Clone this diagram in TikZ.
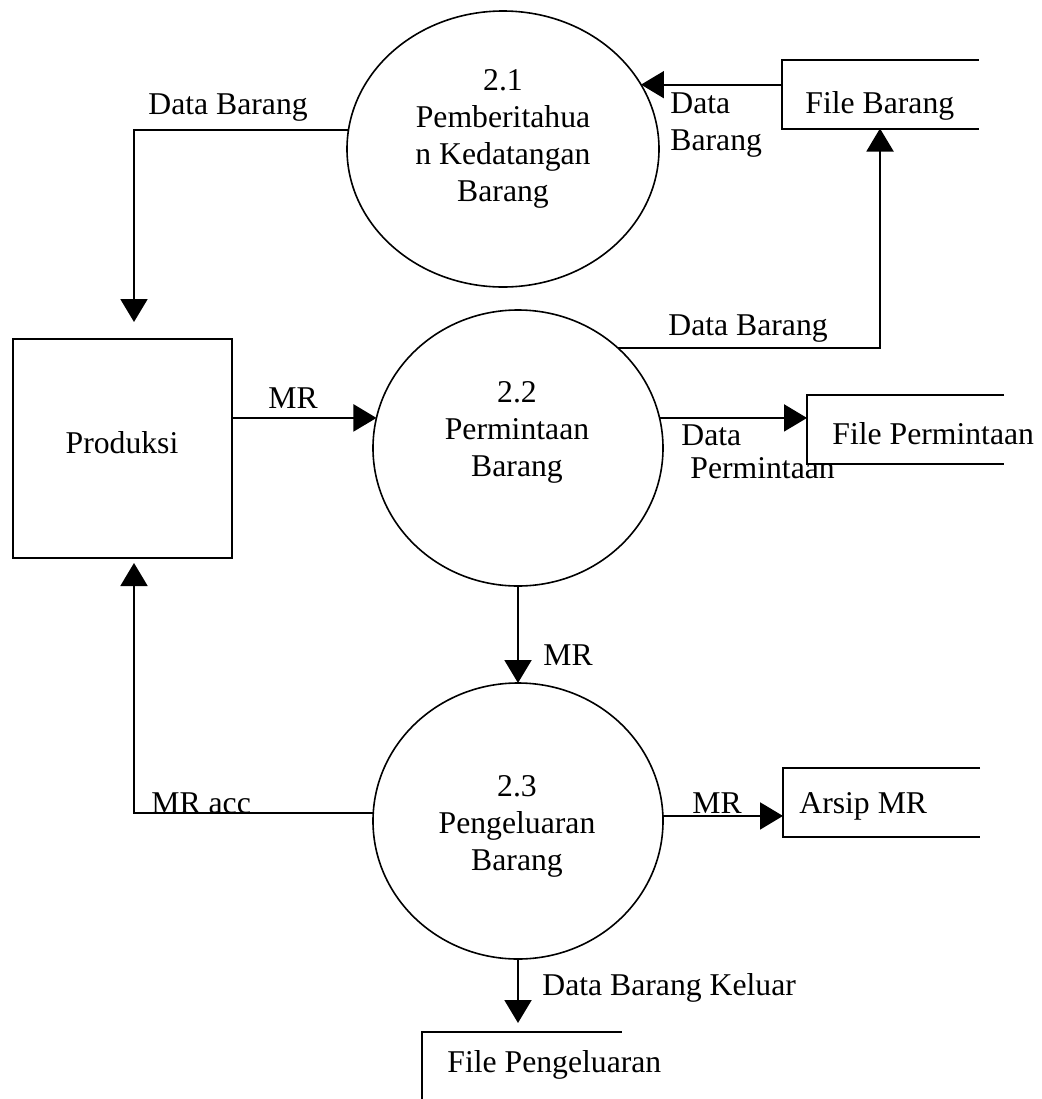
\documentclass[tikz,border=0pt]{standalone}
\usepackage{fontspec}
\setmainfont{Liberation Serif}
\usetikzlibrary{shapes.geometric,arrows.meta}

\begin{document}
\begin{tikzpicture}[x=0.5pt,y=-0.5pt,
  txt/.style={font=\fontsize{15.85pt}{18.5pt}\selectfont, inner sep=0pt},
  lbl/.style={txt, anchor=base west},
  ptext/.style={txt, align=center, anchor=center},
  proc/.style={draw, ellipse, line width=0.8pt, minimum width=145pt,
               minimum height=138pt, inner sep=0pt, outer sep=0pt},
  entity/.style={draw, rectangle, line width=1pt, minimum width=109.5pt,
                 minimum height=109.5pt, inner sep=0pt, outer sep=0pt},
  store/.style={rectangle, minimum width=98.5pt, minimum height=34.5pt,
                inner sep=0pt, outer sep=0pt},
  storeline/.style={line width=1pt},
  flow/.style={line width=1pt, -{Triangle[length=11.5pt,width=13.5pt]}}
]
\useasboundingbox (0,0) rectangle (1041,1099);

% processes
\node[proc, minimum width=156pt] (c21) at (503,149) {};
\node[proc] (c22) at (518,448) {};
\node[proc] (c23) at (518,821) {};

\node[ptext] (t21) at (503,139.2) {2.1\\Pemberitahua\\n Kedatangan\\Barang};
\node[ptext] (t22) at (517,432.8) {2.2\\Permintaan\\Barang};
\node[ptext] (t23) at (517,826.3) {2.3\\Pengeluaran\\Barang};

% external entity
\node[entity] (prod) at (122.5,448.5) {};
\node[txt, anchor=base] (prodtxt) at (122,453) {Produksi};

% data stores (open on the right)
\node[store] (fb) at (880,94) {};
\node[store] (fp) at (905.5,429.5) {};
\node[store] (am) at (881.5,802.5) {};
\node[store, minimum width=100pt, minimum height=33.5pt] (fpg) at (522,1065.5) {};

\draw[storeline] (fb.north east) -- (fb.north west) -- (fb.south west) -- (fb.south east);
\draw[storeline] (fp.north east) -- (fp.north west) -- (fp.south west) -- (fp.south east);
\draw[storeline] (am.north east) -- (am.north west) -- (am.south west) -- (am.south east);
\draw[storeline] (fpg.south west) -- (fpg.north west) -- (fpg.north east);

\node[lbl] (fbtxt) at (805,113) {File Barang};
\node[lbl] (fptxt) at (832,444) {File Permintaan};
\node[lbl] (amtxt) at (799,813) {Arsip MR};
\node[lbl] (fpgtxt) at (447,1072) {File Pengeluaran};

% free ends of the flows into Produksi
\coordinate (pin) at (134,322);
\coordinate (pout) at (134,563);

% data flows
\draw[flow] (c21.173.4) -| (pin);
\draw[flow] (fb.west |- c21.25.7) -- (c21.25.7);
\draw[flow] (c22.45.6) -| (fb.south);
\draw[flow] (prod.east |- c22.168.4) -- (c22.168.4);
\draw[flow] (c22.12) -- (c22.12 -| fp.west);
\draw[flow] (c22.south) -- (c23.north);
\draw[flow] (c23.177.2) -| (pout);
\draw[flow] (c23.2.8) -- (c23.2.8 -| am.west);
\draw[flow, shorten >=4.5pt] (c23.south) -- (c23.south |- fpg.north);

% flow labels
\node[lbl] (l1) at (148,114) {Data Barang};
\node[lbl] (l2a) at (670,113) {Data};
\node[lbl] (l2b) at (670,150) {Barang};
\node[lbl] (l3) at (668,335) {Data Barang};
\node[lbl] (l4) at (268,408) {MR};
\node[lbl] (l5a) at (681,445) {Data};
\node[lbl] (l5b) at (690,478) {Permintaan};
\node[lbl] (l6) at (543,665) {MR};
\node[lbl] (l7) at (151,813) {MR acc};
\node[lbl] (l8) at (692,813) {MR};
\node[lbl] (l9) at (542,995) {Data Barang Keluar};
\end{tikzpicture}
\end{document}
